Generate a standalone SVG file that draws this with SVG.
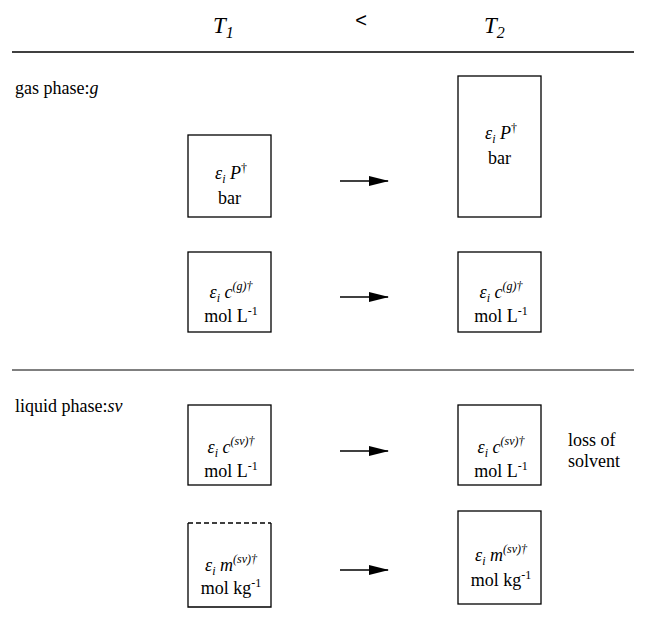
<svg xmlns="http://www.w3.org/2000/svg" width="648" height="636" viewBox="0 0 648 636" font-family="'Liberation Serif', 'Times New Roman', serif">
<style>
.box{fill:#fff;stroke:#000;stroke-width:1.3}
.it{font-style:italic}
.lbl{font-size:18px}
.bt{font-size:18px;text-anchor:middle}
.sup{font-size:12px}
.hd{font-size:23px;font-style:italic}
.arr{stroke:#000;stroke-width:1.5;fill:none}
</style>
<defs>
<marker id="ah" markerWidth="20" markerHeight="10" refX="19" refY="5" orient="auto" markerUnits="userSpaceOnUse">
<path d="M0,0 L20,5 L0,10 Z" fill="#000"/>
</marker>
</defs>
<rect width="648" height="636" fill="#fff"/>
<g id="header">
<text class="hd" x="213" y="33">T<tspan dy="5" font-size="16">1</tspan></text>
<text x="361" y="27" font-size="20" text-anchor="middle" font-family="'Liberation Sans', Arial, sans-serif">&lt;</text>
<text class="hd" x="484" y="33">T<tspan dy="5" font-size="16">2</tspan></text>
<line x1="12" y1="52" x2="634" y2="52" stroke="#000" stroke-width="1.3"/>
<line x1="12" y1="370" x2="634" y2="370" stroke="#000" stroke-width="1"/>
<text class="lbl" x="15" y="94">gas phase:<tspan class="it">g</tspan></text>
<text class="lbl" x="15" y="412">liquid phase:<tspan class="it">sv</tspan></text>
<text class="lbl" x="568" y="446">loss of</text>
<text class="lbl" x="568" y="467">solvent</text>
</g>
<g id="n1">
<rect class="box" x="188" y="135" width="83" height="82"/>
<text class="bt" x="231" y="179"><tspan class="it">ε</tspan><tspan class="sup it" dy="4">i</tspan><tspan class="it" dy="-4"> P</tspan><tspan class="sup" dy="-7">†</tspan></text>
<text class="bt" x="229.5" y="204">bar</text>
</g>
<g id="n2">
<rect class="box" x="458" y="76" width="83" height="141"/>
<text class="bt" x="501" y="139"><tspan class="it">ε</tspan><tspan class="sup it" dy="4">i</tspan><tspan class="it" dy="-4"> P</tspan><tspan class="sup" dy="-7">†</tspan></text>
<text class="bt" x="499.5" y="164">bar</text>
</g>
<g id="n3">
<rect class="box" x="188" y="252" width="83" height="80"/>
<text class="bt" x="231" y="298"><tspan class="it">ε</tspan><tspan class="sup it" dy="4">i</tspan><tspan class="it" dy="-4"> c</tspan><tspan class="sup it" dy="-8">(g)†</tspan></text>
<text class="bt" x="231" y="322">mol  L<tspan class="sup" dy="-7">-1</tspan></text>
</g>
<g id="n4">
<rect class="box" x="458" y="252" width="83" height="80"/>
<text class="bt" x="501" y="298"><tspan class="it">ε</tspan><tspan class="sup it" dy="4">i</tspan><tspan class="it" dy="-4"> c</tspan><tspan class="sup it" dy="-8">(g)†</tspan></text>
<text class="bt" x="501" y="322">mol  L<tspan class="sup" dy="-7">-1</tspan></text>
</g>
<g id="n5">
<rect class="box" x="188" y="405" width="83" height="80"/>
<text class="bt" x="231" y="453"><tspan class="it">ε</tspan><tspan class="sup it" dy="4">i</tspan><tspan class="it" dy="-4"> c</tspan><tspan class="sup it" dy="-8">(sv)†</tspan></text>
<text class="bt" x="231" y="477">mol  L<tspan class="sup" dy="-7">-1</tspan></text>
</g>
<g id="n6">
<rect class="box" x="458" y="405" width="83" height="80"/>
<text class="bt" x="501" y="453"><tspan class="it">ε</tspan><tspan class="sup it" dy="4">i</tspan><tspan class="it" dy="-4"> c</tspan><tspan class="sup it" dy="-8">(sv)†</tspan></text>
<text class="bt" x="501" y="477">mol  L<tspan class="sup" dy="-7">-1</tspan></text>
</g>
<g id="n7">
<path d="M188,523 L188,607 L271,607 L271,523" fill="#fff" stroke="#000" stroke-width="1.3"/>
<line x1="188" y1="523" x2="271" y2="523" stroke="#000" stroke-width="1.5" stroke-dasharray="5,3"/>
<text class="bt" x="231" y="571"><tspan class="it">ε</tspan><tspan class="sup it" dy="4">i</tspan><tspan class="it" dy="-4"> m</tspan><tspan class="sup it" dy="-8">(sv)†</tspan></text>
<text class="bt" x="231" y="594">mol  kg<tspan class="sup" dy="-7">-1</tspan></text>
</g>
<g id="n8">
<rect class="box" x="458" y="511" width="83" height="93"/>
<text class="bt" x="501" y="561"><tspan class="it">ε</tspan><tspan class="sup it" dy="4">i</tspan><tspan class="it" dy="-4"> m</tspan><tspan class="sup it" dy="-8">(sv)†</tspan></text>
<text class="bt" x="501" y="586">mol  kg<tspan class="sup" dy="-7">-1</tspan></text>
</g>
<g id="connectors">
<line class="arr" x1="340" y1="181" x2="388" y2="181" marker-end="url(#ah)"/>
<line class="arr" x1="340" y1="297" x2="388" y2="297" marker-end="url(#ah)"/>
<line class="arr" x1="340" y1="451" x2="388" y2="451" marker-end="url(#ah)"/>
<line class="arr" x1="340" y1="570" x2="388" y2="570" marker-end="url(#ah)"/>
</g>
</svg>
